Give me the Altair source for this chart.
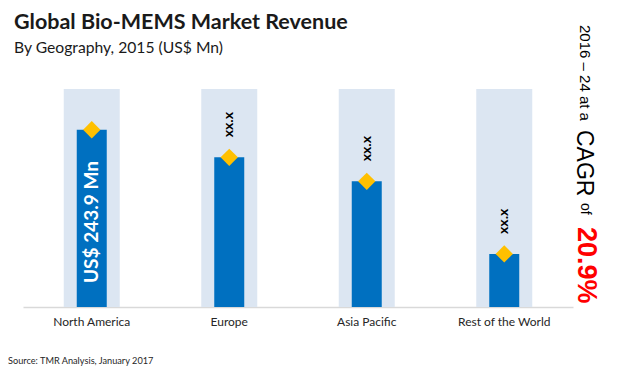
import altair as alt
import pandas as pd

regions = ["North America", "Europe", "Asia Pacific", "Rest of the World"]
revenue = [243.9, 206.0, 173.0, 73.0]
value_labels = ["US$ 243.9 Mn", "xx.x", "xx.x", "xx.x"]
axis_max = [300, 300, 300, 300]
baseline_value = [0, 0, 0, 0]

title_text = "Global Bio-MEMS Market Revenue"
subtitle_text = "By Geography, 2015 (US$ Mn)"
source_text = "Source: TMR Analysis, January 2017"
cagr_parts = ["2016 \u2013 24 at a", "CAGR", "of", "20.9%"]

df = pd.DataFrame({"region": regions, "revenue": revenue,
                   "label": value_labels, "top": axis_max,
                   "zero": baseline_value})

W, H = 550, 218
base = alt.Chart(df)

x = alt.X("region:N", sort=regions,
          scale=alt.Scale(paddingInner=0, paddingOuter=0),
          axis=alt.Axis(title=None, labelAngle=0, ticks=False,
                        domainColor="#D9D9D9", domainWidth=1.5,
                        labelFont="Lato", labelFontSize=12,
                        labelColor="#262626", labelPadding=9))
yscale = alt.Scale(domain=[0, 300], nice=False)
y = alt.Y("revenue:Q", scale=yscale, axis=None)

bg = base.mark_bar(color="#DCE6F2", size=56).encode(
    x=x, y=alt.Y("top:Q", scale=yscale, axis=None))
bars = base.mark_bar(color="#0070C0", size=30).encode(x=x, y=y)
diamonds = base.mark_point(shape="diamond", filled=True, size=300,
                           color="#FFC000", opacity=1).encode(x=x, y=y)

na_label = base.transform_filter(alt.datum.region == "North America").mark_text(
    angle=270, align="left", baseline="middle", dx=24, color="white",
    fontWeight="bold", fontSize=19, font="Lato").encode(
    x=x, y=alt.Y("zero:Q", scale=yscale, axis=None), text="label:N")
other_labels = base.transform_filter(alt.datum.region != "North America").mark_text(
    angle=270, align="left", baseline="middle", dx=20, color="black",
    fontWeight="bold", fontSize=14, font="Lato").encode(
    x=x, y=y, text="label:N")

one = base.transform_filter(alt.datum.region == "North America")

def txt(s, xv, yv, **kw):
    return one.mark_text(**kw).encode(x=alt.value(xv), y=alt.value(yv),
                                      text=alt.value(s))

title = txt(title_text, -9, -60, align="left", baseline="alphabetic",
            font="Lato", fontWeight="bold", fontSize=21.5, color="#1a1a1a")
subtitle = txt(subtitle_text, -9, -36, align="left", baseline="alphabetic",
               font="Lato", fontSize=15.7, color="#1a1a1a")
source = txt(source_text, -15, 275, align="left", baseline="alphabetic",
             font="Lato", fontSize=9.2, color="#262626")

c1 = txt(cagr_parts[0], 557, -64, angle=90, align="left", baseline="alphabetic",
         font="Liberation Sans", fontSize=15, color="black")
c2 = txt(cagr_parts[1], 554, 41, angle=90, align="left", baseline="alphabetic",
         font="Liberation Sans", fontSize=23, color="black")
c3 = txt(cagr_parts[2], 558, 114, angle=90, align="left", baseline="alphabetic",
         font="Liberation Sans", fontSize=14, color="black")
c4 = txt(cagr_parts[3], 555, 138, angle=90, align="left", baseline="alphabetic",
         font="Liberation Sans", fontSize=27, fontWeight="bold", color="#FF0000")

chart = alt.layer(bg, bars, diamonds, na_label, other_labels,
                  title, subtitle, source, c1, c2, c3, c4).properties(
    width=W, height=H,
    autosize=alt.AutoSizeParams(type="none"),
    padding={"left": 15, "top": 81, "right": 39, "bottom": 59},
    background="white",
).configure_view(stroke=None)

chart.save("out.html", embed_options={"renderer": "svg", "actions": False})
